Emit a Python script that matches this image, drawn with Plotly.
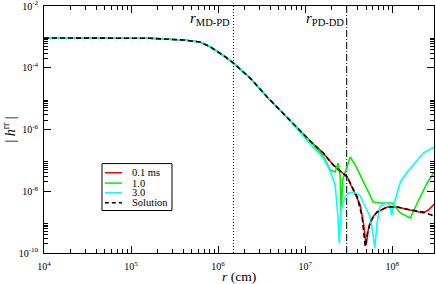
import math
import plotly.graph_objects as go

# ---------------- data ----------------
# shared early part (all runs coincide with the solution here)
r_common = [1e4, 1e5, 1.65e5, 4.0e5, 6.2e5, 8.1e5, 1.0e6, 1.2e6, 1.49e6,
            2.33e6, 3.66e6, 5.58e6]
h_common = [9.2e-4, 9.2e-4, 9.0e-4, 7.9e-4, 6.8e-4, 4.8e-4, 3.24e-4, 2.29e-4, 1.43e-4,
            4.66e-5, 1.13e-5, 3.42e-6]

# Solution (tail)
r_sol_tail = [8.1e6, 1.14e7, 1.61e7, 2.1e7, 3.04e7, 3.96e7, 4.52e7, 4.7e7, 4.9e7,
              5.22e7, 5.58e7, 6.12e7, 6.73e7, 8.77e7, 1.14e8, 1.61e8, 2.27e8, 3.04e8]
h_sol_tail = [1.12e-6, 4.25e-7, 1.73e-7, 7.1e-8, 2.9e-8, 6.5e-9, 1.47e-9, 5.6e-10, 1.6e-10,
              4.8e-10, 9.4e-10, 1.58e-9, 2.13e-9, 3.1e-9, 3.1e-9, 2.47e-9, 2.13e-9, 1.58e-9]

# 0.1 ms (tail)
r_01_tail = [8.1e6, 1.14e7, 1.61e7, 2.1e7, 3.04e7, 3.96e7, 4.29e7, 4.7e7, 5.02e7,
             5.3e7, 5.58e7, 6.12e7, 6.73e7, 8.77e7, 1.14e8, 1.61e8, 2.27e8, 2.6e8, 3.04e8]
h_01_tail = [1.12e-6, 4.25e-7, 1.73e-7, 7.1e-8, 2.9e-8, 6.3e-9, 3.6e-9, 8.1e-10, 1.8e-10,
             5.5e-10, 9.4e-10, 1.58e-9, 2.13e-9, 3.1e-9, 3.1e-9, 2.47e-9, 1.98e-9, 2.47e-9, 3.86e-9]

# 1.0 (tail)
r_10_tail = [8.1e6, 1.14e7, 1.61e7, 1.94e7, 2.21e7, 2.39e7, 2.52e7, 2.59e7, 2.7e7,
             3.04e7, 3.29e7, 3.76e7, 4.9e7, 6.05e7, 7.2e7, 1.0e8, 1.24e8, 1.61e8,
             1.94e8, 2.52e8, 3.04e8]
h_10_tail = [1.12e-6, 4.25e-7, 1.39e-7, 4.87e-8, 4.2e-8, 8.2e-8, 3.36e-8, 2.13e-9, 2.31e-8,
             7.1e-8, 1.29e-7, 7.1e-8, 1.59e-8, 4.5e-9, 4.16e-9, 4.16e-9, 1.98e-9, 1.36e-9,
             4.16e-9, 1.85e-8, 4.2e-8]

# 3.0 (tail)
r_30_tail = [8.1e6, 1.14e7, 1.61e7, 1.94e7, 2.21e7, 2.37e7, 2.46e7, 2.56e7, 2.66e7,
             2.88e7, 3.12e7, 3.66e7, 4.29e7, 4.9e7, 5.58e7, 5.97e7, 6.3e7, 6.73e7,
             7.2e7, 8.3e7, 9.25e7, 9.87e7, 1.04e8, 1.14e8, 1.24e8, 1.49e8, 1.94e8,
             2.27e8, 3.04e8]
h_30_tail = [1.05e-6, 3.4e-7, 1.2e-7, 4.5e-8, 1.59e-8, 1.7e-9, 2.1e-10, 1.7e-9, 3.6e-9,
             6.5e-9, 8.8e-9, 9.4e-9, 7.0e-9, 3.1e-9, 1.47e-9, 4.8e-10, 1.45e-10, 1.0e-9,
             3.1e-9, 4.16e-9, 3.86e-9, 1.7e-9, 3.6e-9, 8.8e-9, 2.0e-8, 4.2e-8, 1.03e-7,
             1.73e-7, 2.71e-7]

series_names = ["0.1 ms", "1.0", "3.0", "Solution"]
series_colors = ["#ff0000", "#00ee00", "#00ffff", "#000000"]

boundaries = [1.5e6, 3.0e7]
boundary_labels = ["<i>r</i><sub>MD-PD</sub>", "<i>r</i><sub>PD-DD</sub>"]

x_major = [1e4, 1e5, 1e6, 1e7, 1e8]
x_major_text = ["10<sup>4</sup>", "10<sup>5</sup>", "10<sup>6</sup>", "10<sup>7</sup>", "10<sup>8</sup>"]
y_major = [1e-10, 1e-8, 1e-6, 1e-4, 1e-2]
y_major_text = ["10<sup>-10</sup>", "10<sup>-8</sup>", "10<sup>-6</sup>", "10<sup>-4</sup>", "10<sup>-2</sup>"]
minor_digits = [2, 3, 4, 5, 6, 7, 8, 9]
x_minor_decades = [4, 5, 6, 7, 8]
y_minor_decades = [-10, -8, -6, -4]

# ---------------- figure ----------------
series_r = [r_common + r_01_tail, r_common + r_10_tail, r_common + r_30_tail, r_common + r_sol_tail]
series_h = [h_common + h_01_tail, h_common + h_10_tail, h_common + h_30_tail, h_common + h_sol_tail]
series_dash = ["solid", "solid", "solid", "5px,3px"]

FONT = "Liberation Serif, Times New Roman, serif"
fig = go.Figure()

for b, d in zip(boundaries, ["1px,2px", "7px,2px,1px,2px"]):
    fig.add_trace(go.Scatter(x=[b, b], y=[1e-10, 1e-2], mode="lines",
                             line=dict(color="black", width=1, dash=d),
                             showlegend=False, hoverinfo="skip"))

for r, h, c, d, n in zip(series_r, series_h, series_colors, series_dash, series_names):
    fig.add_trace(go.Scatter(x=r, y=h, mode="lines", name=n,
                             line=dict(color=c, width=1.6, dash=d), showlegend=False))

x_minor = [d * 10 ** k for k in x_minor_decades for d in minor_digits if d * 10 ** k <= 3.1e8]
y_minor = [d * 10.0 ** k for k in y_minor_decades for d in minor_digits]

axis_common = dict(type="log", showgrid=False, zeroline=False, showline=True,
                   linecolor="black", linewidth=1, mirror="ticks", ticks="inside",
                   ticklen=7, tickwidth=1, tickcolor="black", automargin=False,
                   ticklabeloverflow="allow",
                   tickfont=dict(family=FONT, size=10, color="black"))

fig.update_xaxes(**axis_common, range=[4, 8.48], tickmode="array", tickvals=x_major,
                 ticktext=x_major_text, ticklabelstandoff=4,
                 minor=dict(tickmode="array", tickvals=x_minor, ticks="inside", ticklen=4,
                            tickcolor="black", tickwidth=1))
fig.update_yaxes(**axis_common, range=[-10, -2], tickmode="array", tickvals=y_major,
                 ticktext=y_major_text, ticklabelstandoff=3,
                 minor=dict(tickmode="array", tickvals=y_minor, ticks="inside", ticklen=4,
                            tickcolor="black", tickwidth=1),
                 title=dict(text="| <i>h</i><sup>rr</sup> |", font=dict(family=FONT, size=14, color="black"),
                            standoff=2))

# x-axis title placed as an annotation so it can sit exactly as in the reference
fig.add_annotation(x=0.5, y=-0.062, xref="paper", yref="paper", text="<i>r</i> (cm)",
                   showarrow=False, xanchor="center", yanchor="top", borderpad=0,
                   font=dict(family=FONT, size=13.5, color="black"))

for b, t in zip(boundaries, boundary_labels):
    fig.add_annotation(x=math.log10(b), y=0.99, xref="x", yref="paper", text=t,
                       showarrow=False, xanchor="right", yanchor="top", xshift=-1,
                       font=dict(family=FONT, size=15, color="black"))

# custom legend box
lx0, lx1, ly0, ly1 = 0.1487, 0.3282, 0.172, 0.362
fig.add_shape(type="rect", xref="paper", yref="paper", x0=lx0, x1=lx1, y0=ly0, y1=ly1,
              line=dict(color="black", width=1), fillcolor="white", layer="above")
row_y = [0.325, 0.283, 0.244, 0.203]
for yy, n, c, d in zip(row_y, series_names, series_colors, series_dash):
    fig.add_shape(type="line", xref="paper", yref="paper", x0=0.156, x1=0.2, y0=yy, y1=yy,
                  line=dict(color=c, width=1.5, dash="4px,3px" if d != "solid" else "solid"),
                  layer="above")
    fig.add_annotation(x=0.222, y=yy, xref="paper", yref="paper", text=n, showarrow=False,
                       xanchor="left", yanchor="middle", borderpad=0,
                       font=dict(family=FONT, size=10.5, color="black"))

fig.update_layout(width=436, height=284, margin=dict(l=44, r=2, t=6, b=31),
                  paper_bgcolor="white", plot_bgcolor="white", showlegend=False)

fig.write_html("out.html", config={"displayModeBar": False},
               post_script="document.body.style.margin='0';document.body.style.padding='0';")
